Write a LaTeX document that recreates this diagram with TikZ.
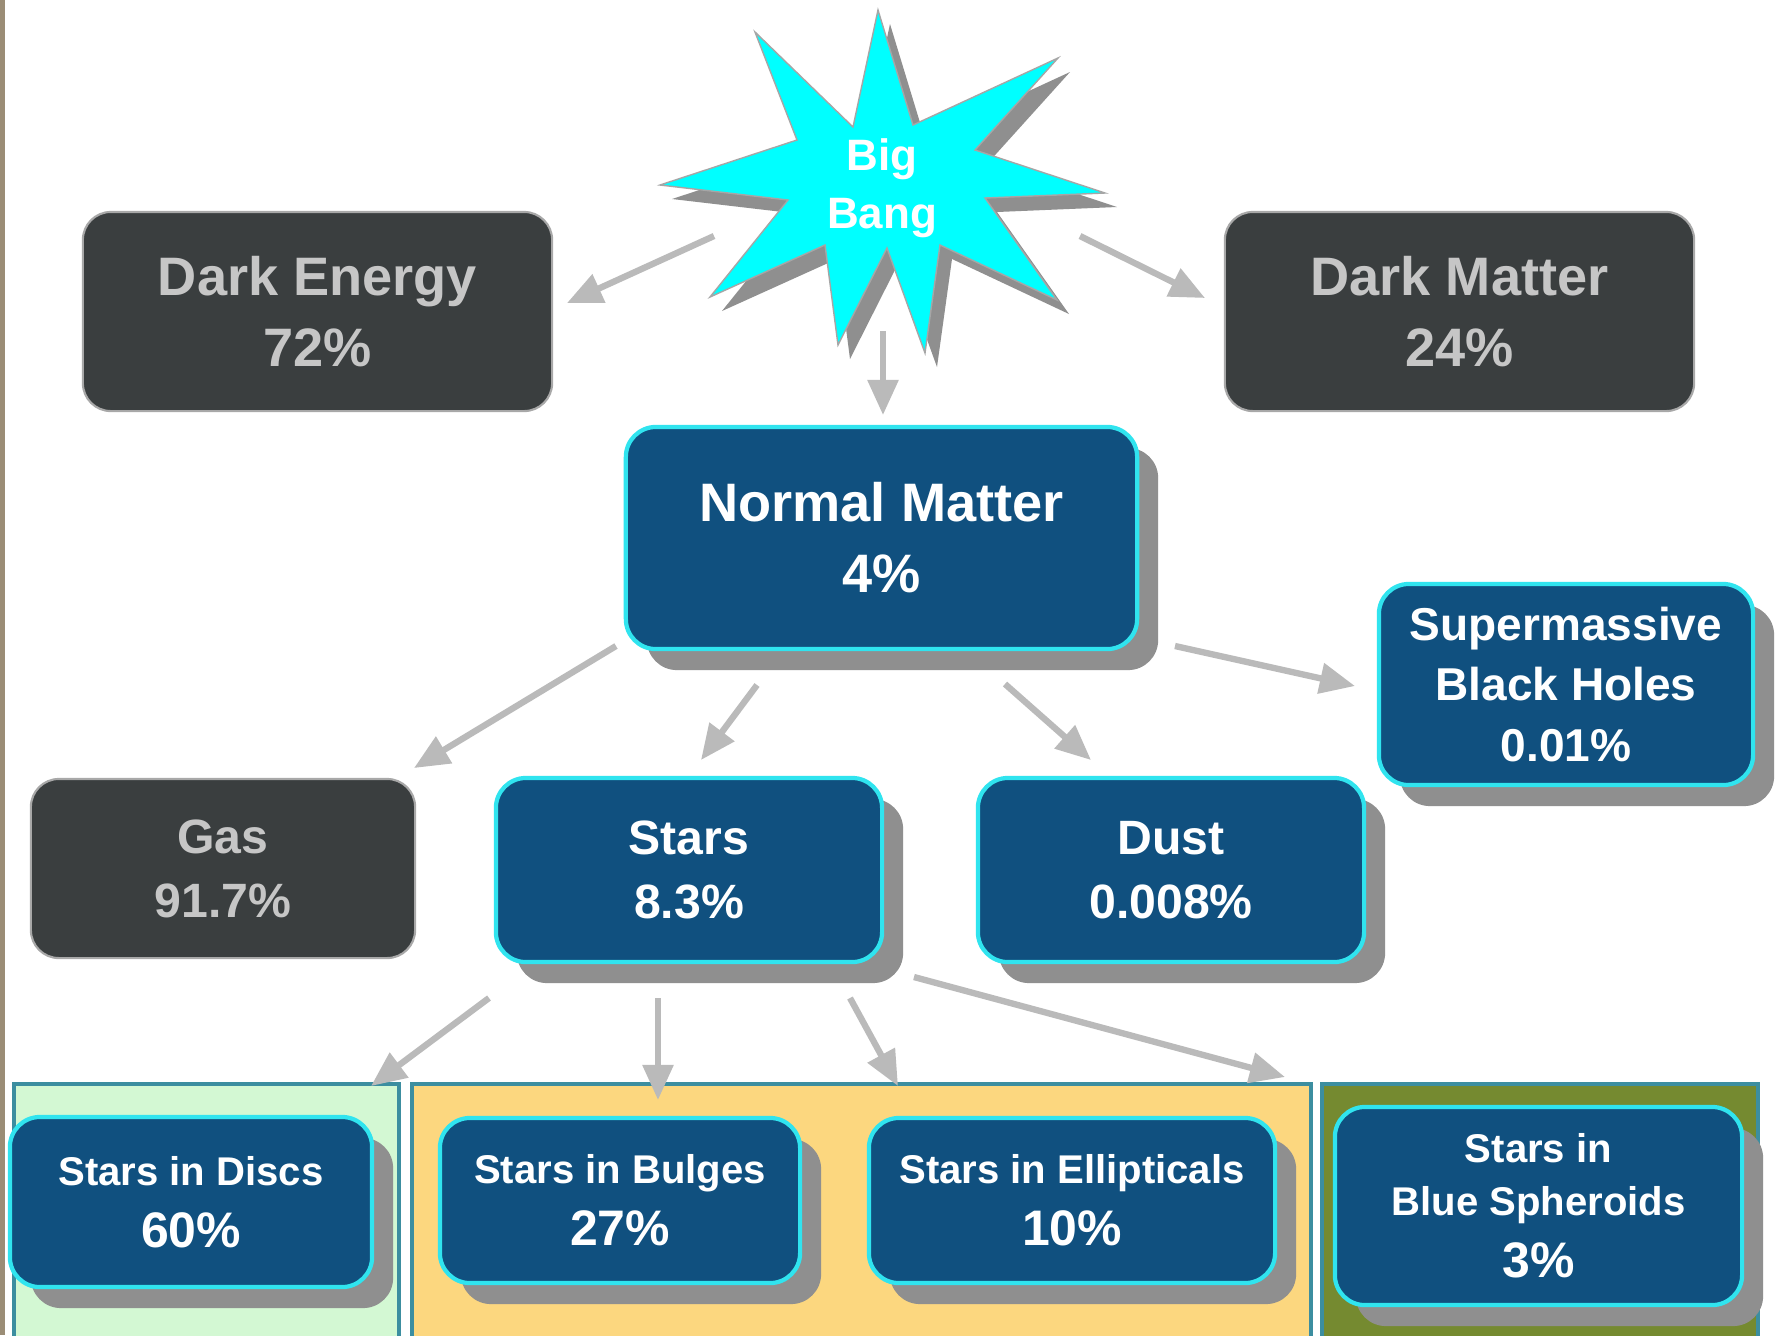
\documentclass[tikz,border=0pt]{standalone}
\usepackage{fontspec}
\setmainfont{Liberation Sans}
\usetikzlibrary{shadows,arrows.meta}
\definecolor{darkfill}{HTML}{3A3E3F}
\definecolor{darkedge}{HTML}{A8A8A8}
\definecolor{darktext}{HTML}{C6C6C6}
\definecolor{bluefill}{HTML}{10507F}
\definecolor{cyanedge}{HTML}{30E4EF}
\definecolor{shadowgray}{HTML}{8F8F8F}
\definecolor{arrowgray}{HTML}{BABABA}
\definecolor{panelgreen}{HTML}{D3F8D3}
\definecolor{panelyellow}{HTML}{FCD77F}
\definecolor{panelolive}{HTML}{758A30}
\definecolor{paneledge}{HTML}{3C8EA0}
\definecolor{strip}{HTML}{9B8D76}
\definecolor{starcyan}{HTML}{00FFFF}
\newcommand{\pct}[1]{{\fontsize{14.2}{15}\selectfont #1}}
\tikzset{
  darkbox/.style={rectangle, rounded corners=0.28cm, fill=darkfill, draw=darkedge, line width=0.6pt,
    text=darktext, align=center, inner sep=0pt},
  bluebox/.style={rectangle, rounded corners=0.3cm, fill=bluefill, draw=cyanedge, line width=1.2pt,
    text=white, align=center, inner sep=0pt,
    drop shadow={shadow xshift=0.21cm, shadow yshift=-0.21cm, fill=shadowgray, opacity=1}},
  topfont/.style={font=\bfseries\fontsize{15.4}{20.2}\selectfont},
  midfont/.style={font=\bfseries\fontsize{13.7}{18.2}\selectfont},
  smbhfont/.style={font=\bfseries\fontsize{13.1}{17.1}\selectfont},
  botfont/.style={font=\bfseries\fontsize{11.4}{15}\selectfont},
  panel/.style={draw=paneledge, line width=0.9pt},
  conn/.style={draw=arrowgray, line width=1.8pt,
    -{Triangle[width=8.5pt,length=10pt,fill=arrowgray]}},
}
\begin{document}
\begin{tikzpicture}[x=0.01cm,y=-0.01cm]
\useasboundingbox (0,0) rectangle (1778,1335);
\fill[white] (0,0) rectangle (1778,1335);
\fill[strip] (0,0) rectangle (5,1335);

% panels
\filldraw[panel, fill=panelgreen] (14,1084) rectangle (399,1345);
\filldraw[panel, fill=panelyellow] (412,1084) rectangle (1311,1345);
\filldraw[panel, fill=panelolive] (1322,1084) rectangle (1758,1345);

% star
\def\starpath{(878,10) -- (913,125) -- (1058,58) -- (975,150) -- (1105,193) -- (985,198) -- (1057,300) -- (940,245) -- (925,353) -- (887,248) -- (838,345) -- (825,245) -- (710,297) -- (788,200) -- (660,185) -- (797,140) -- (755,32) -- (853,127) -- cycle}
\fill[shadowgray, shift={(12,14)}] \starpath;
\filldraw[fill=starcyan, draw=gray!70, line width=0.4pt] \starpath;
\node[text=white, align=center, font=\bfseries\fontsize{12.5}{16.5}\selectfont] (bb) at (882,188) {Big\\Bang};

% top boxes
\node[darkbox, topfont, minimum width=4.69cm, minimum height=1.99cm] (de) at (317.5,311.5) {Dark Energy\\72\%};
\node[darkbox, topfont, minimum width=4.69cm, minimum height=1.99cm] (dm) at (1459.5,311.5) {Dark Matter\\24\%};
\node[bluebox, topfont, minimum width=5.11cm, minimum height=2.22cm] (nm) at (881.5,538) {Normal Matter\\4\%};

% second row
\node[darkbox, midfont, minimum width=3.84cm, minimum height=1.79cm] (gas) at (223,868.5) {Gas\\91.7\%};
\node[bluebox, midfont, minimum width=3.86cm, minimum height=1.84cm] (stars) at (689,870) {Stars\\8.3\%};
\node[bluebox, midfont, minimum width=3.86cm, minimum height=1.84cm] (dust) at (1171,870) {Dust\\0.008\%};
\node[bluebox, smbhfont, minimum width=3.74cm, minimum height=2.01cm] (smbh) at (1566,684.5) {Supermassive\\Black Holes\\0.01\%};

% bottom row
\node[bluebox, botfont, minimum width=3.62cm, minimum height=1.70cm] (discs) at (191,1202) {Stars in Discs\\[2.6pt]\pct{60\%}};
\node[bluebox, botfont, minimum width=3.60cm, minimum height=1.65cm] (bulges) at (620,1200.5) {Stars in Bulges\\[2.6pt]\pct{27\%}};
\node[bluebox, botfont, minimum width=4.06cm, minimum height=1.65cm] (ellip) at (1072,1200.5) {Stars in Ellipticals\\[2.6pt]\pct{10\%}};
\node[bluebox, botfont, minimum width=4.07cm, minimum height=1.98cm] (blue) at (1538.5,1206) {Stars in\\Blue Spheroids\\[2.6pt]\pct{3\%}};

% connector end points
\coordinate (bbde) at (714,236);   \coordinate (debb) at (567,303);
\coordinate (bbdm) at (1080,236);  \coordinate (dmbb) at (1205,298);
\coordinate (bbnm) at (883,331);   \coordinate (nmbb) at (883,415);
\coordinate (nmgas) at (616,646);  \coordinate (gasnm) at (414,768);
\coordinate (nmst) at (757,685);   \coordinate (stnm) at (701,760);
\coordinate (nmdu) at (1005,684);  \coordinate (dunm) at (1091,760);
\coordinate (nmsm) at (1175,646);  \coordinate (smnm) at (1355,686);
\coordinate (stdi) at (489,998);   \coordinate (dist) at (371,1086);
\coordinate (stbu) at (658,998);   \coordinate (bust) at (658,1100);
\coordinate (stel) at (850,998);   \coordinate (elst) at (898,1086);
\coordinate (stbl) at (914,977);   \coordinate (blst) at (1285,1077);

\draw[conn] (bbde) -- (debb);
\draw[conn] (bbdm) -- (dmbb);
\draw[conn] (bbnm) -- (nmbb);
\draw[conn] (nmgas) -- (gasnm);
\draw[conn] (nmst) -- (stnm);
\draw[conn] (nmdu) -- (dunm);
\draw[conn] (nmsm) -- (smnm);
\draw[conn] (stdi) -- (dist);
\draw[conn] (stbu) -- (bust);
\draw[conn] (stel) -- (elst);
\draw[conn] (stbl) -- (blst);
\end{tikzpicture}
\end{document}
